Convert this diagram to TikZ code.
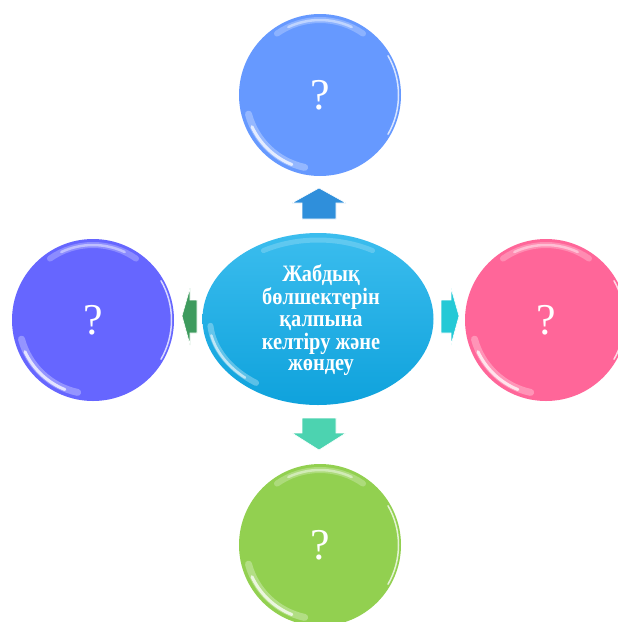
\documentclass[tikz,border=0pt]{standalone}
\usetikzlibrary{shapes.geometric}
\usepackage{graphicx}
\usepackage{fontspec}
\setmainfont{Liberation Serif}
\newfontfamily\ctrfont[FakeStretch=0.97]{Liberation Serif}
\definecolor{ctop}{HTML}{6699FF}
\definecolor{cleft}{HTML}{6666FF}
\definecolor{cright}{HTML}{FF6699}
\definecolor{cbot}{HTML}{92D050}
\definecolor{cctrA}{HTML}{3BBDEE}
\definecolor{cctrB}{HTML}{0FA2DC}
\definecolor{arrUp}{HTML}{2F8FDB}
\definecolor{arrDown}{HTML}{4CD3B0}
\definecolor{arrLeft}{HTML}{3E9B5E}
\definecolor{arrRight}{HTML}{25C9D6}
\tikzset{
  bubble/.style={circle, minimum size=162pt, inner sep=0pt, text=white, font=\fontsize{44}{44}\selectfont},
  glint/.style={white, line cap=round},
  blockarrow/.style={draw=white, line width=0.6pt},
}
\begin{document}
\begin{tikzpicture}[x=1pt,y=-1pt]
\useasboundingbox (0,0) rectangle (618,622);
\clip (0,0) rectangle (618,622);
% bubbles
\node[bubble, fill=ctop] (top) at (320,95) {?};
\node[bubble, fill=cleft] (left) at (93,320) {?};
\node[bubble, fill=cright] (right) at (546,320) {?};
\node[bubble, fill=cbot] (bot) at (320,545) {?};
% glints on bubbles
\foreach \c in {top,left,right,bot}{
  \draw[glint, line width=6pt, opacity=0.25] ([shift={(-55:75)}]\c.center) arc[start angle=-55, end angle=-125, radius=75];
  \draw[glint, line width=2.5pt, opacity=0.45] ([shift={(-65:75)}]\c.center) arc[start angle=-65, end angle=-115, radius=75];
  \draw[glint, line width=7pt, opacity=0.3] ([shift={(-195:74)}]\c.center) arc[start angle=-195, end angle=-258, radius=74];
  \draw[glint, line width=3pt, opacity=0.75] ([shift={(-205:75)}]\c.center) arc[start angle=-205, end angle=-248, radius=75];
  \draw[glint, line width=1.5pt, opacity=0.75] ([shift={(30:78.5)}]\c.center) arc[start angle=30, end angle=-30, radius=78.5];
}
% center ellipse
\node[ellipse, minimum width=231pt, minimum height=172pt, inner sep=0pt, top color=cctrA, bottom color=cctrB] (ctr) at (318,319) {};
\draw[glint, line width=6pt, opacity=0.3] ([shift={(-185:108 and 78)}]ctr.center) arc[start angle=-185, end angle=-235, x radius=108, y radius=78];
\draw[glint, line width=2.5pt, opacity=0.6] ([shift={(-192:109 and 79)}]ctr.center) arc[start angle=-192, end angle=-228, x radius=109, y radius=79];
\draw[glint, line width=5pt, opacity=0.2] ([shift={(-60:109 and 79)}]ctr.center) arc[start angle=-60, end angle=-120, x radius=109, y radius=79];
\node[text=white, inner sep=0pt, font=\ctrfont\bfseries\fontsize{21}{19.2}\selectfont] (ctrtext) at (321,321) {\scalebox{1}[1.12]{\begin{tabular}{@{}c@{}}Жабдық\\бөлшектерін\\қалпына\\келтіру және\\жөндеу\end{tabular}}};
% block arrows
\path[blockarrow, fill=arrUp] (292,203) -- (319,188) -- (346,203) -- (336,203) -- (336,219) -- (302,219) -- (302,203) -- cycle;
\path[blockarrow, fill=arrDown] (302,418) -- (336,418) -- (336,433) -- (346,433) -- (319,450) -- (292,433) -- (302,433) -- cycle;
\path[blockarrow, fill=arrLeft] (197,300) -- (197,333) -- (190,333) -- (190,345) -- (182,316) -- (190,288) -- (190,300) -- cycle;
\path[blockarrow, fill=arrRight] (441,300) -- (451,300) -- (451,288) -- (459,316) -- (451,345) -- (451,333) -- (441,333) -- cycle;
\end{tikzpicture}
\end{document}
